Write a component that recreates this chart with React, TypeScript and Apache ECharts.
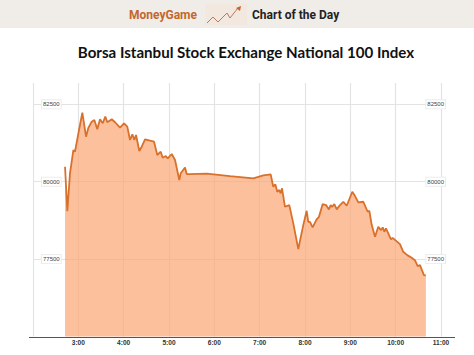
import React, { useEffect, useRef } from "react";
import * as echarts from "echarts";

const TITLE = "Borsa Istanbul Stock Exchange National 100 Index";
const BRAND = "MoneyGame";
const TAG = "Chart of the Day";

// minutes after midnight
const minutes = [
  162.4, 165.4, 169, 173.4, 175.6, 180.9, 185.3, 190.2, 193.2, 197.7, 201.2, 205.1, 208.7, 212.3, 215.7, 218.4,
  224.2, 228.6, 235.2, 240.5, 244.8, 248.4, 251.5, 254.1, 256.4, 260.7, 263.9, 268.3, 274.9, 280.2, 284.5, 289,
  291.7, 295.7, 298.3, 303.6, 308, 313.6, 315.5, 321.2, 323.4, 327.8, 349.9, 380.7, 411.6, 424.8, 434.6, 438,
  440.7, 443.3, 446, 447.8, 449.6, 453.5, 459.2, 464.5, 471.1, 477.7, 482.2, 484.3, 486.6, 490.1, 495.4, 498.5,
  503.4, 507.8, 511.7, 514, 516, 518.8, 522, 526.3, 530.7, 535.2, 542.6, 546.2, 550.6, 557.2, 563, 565.2,
  568.3, 572.7, 577, 580.6, 582.9, 585, 587.2, 593.8, 596, 605.7, 610, 615.3, 621.2, 625.5, 629.1, 632.2,
  637.4, 640,
];
const indexValues = [
  80485, 79052, 80281, 81025, 80970, 81672, 82232, 81456, 81737, 81941, 81996, 81695, 82019, 81889, 82103, 81922,
  82019, 81922, 81747, 81889, 81779, 81349, 81533, 81349, 81511, 80993, 81132, 81372, 81326, 81294, 80864, 80970,
  80776, 80831, 80757, 80896, 80702, 80055, 80272, 80459, 80249, 80249, 80259, 80184, 80110, 80207, 80239, 79838,
  79916, 79677, 79731, 79625, 79786, 79191, 79246, 78654, 77823, 78599, 79062, 78706, 78706, 78525, 78784, 78868,
  79279, 79246, 79107, 79246, 79182, 79279, 79107, 79246, 79353, 79224, 79676, 79537, 79334, 79353, 79030, 79062,
  78599, 78221, 78544, 78437, 78525, 78383, 78492, 78137, 78188, 77985, 77736, 77629, 77541, 77467, 77273, 77305,
  76982, 76972,
];

export default function App() {
  const ref = useRef<HTMLDivElement>(null);
  useEffect(() => {
    const chart = echarts.init(ref.current!, null, { renderer: "svg" });
    const gridColor = "#e3e3e3";
    const yLabel = {
      show: true,
      inside: true,
      showMinLabel: false,
      showMaxLabel: false,
      fontFamily: "Liberation Sans",
      fontSize: 6,
      color: "#444",
      backgroundColor: "#fff",
      borderColor: "#ececec",
      borderWidth: 1,
      padding: [1, 1, 1, 1],
      formatter: (v: number) => String(v),
    };
    chart.setOption({
      animation: false,
      backgroundColor: "#fff",
      grid: { left: 33, right: 33, top: 83, bottom: 18.5 },
      xAxis: {
        type: "value",
        min: 120,
        max: 660,
        interval: 60,
        axisLine: { show: false },
        axisTick: { show: false },
        axisLabel: {
          margin: 2,
          fontFamily: "Liberation Sans",
          fontSize: 6.6,
          fontWeight: "bold",
          color: "#333",
          formatter: (v: number) => (v === 120 ? "" : `${v / 60}:00`),
        },
        splitLine: { show: true, lineStyle: { color: gridColor, width: 1.2 } },
      },
      yAxis: [
        {
          type: "value",
          min: 75000,
          max: 83190,
          interval: 2500,
          position: "left",
          axisLine: { show: false },
          axisTick: { show: false },
          axisLabel: { ...yLabel, margin: 9 },
          splitLine: { show: true, showMinLine: false, showMaxLine: false, lineStyle: { color: gridColor, width: 1.2 } },
        },
        {
          type: "value",
          min: 75000,
          max: 83190,
          interval: 2500,
          position: "right",
          axisLine: { show: false },
          axisTick: { show: false },
          axisLabel: { ...yLabel, margin: -4 },
          splitLine: { show: false },
        },
      ],
      series: [
        {
          type: "line",
          data: minutes.map((m, i) => [m, indexValues[i]]),
          showSymbol: false,
          smooth: false,
          lineStyle: { color: "#d9702b", width: 1.8 },
          areaStyle: { color: "#fca876", opacity: 0.72, origin: "start" },
        },
      ],
      graphic: [
        { type: "rect", shape: { x: 0, y: 0, width: 474, height: 28 }, style: { fill: "#f0ede9" } },
        { type: "rect", shape: { x: 205, y: 4, width: 42, height: 21 }, style: { fill: "#f3e8df" } },
        {
          type: "polyline",
          shape: { points: [[207, 23], [213, 17], [218, 22], [227, 13], [230, 18], [238, 8]] },
          style: { stroke: "#b9795a", lineWidth: 1, fill: "none" },
        },
        {
          type: "polygon",
          shape: { points: [[236, 8], [241, 6], [240, 11]] },
          style: { fill: "#c8632a" },
        },
        {
          type: "text",
          x: 129,
          y: 15,
          style: { text: BRAND, fontFamily: "Roboto", fontWeight: "bold", fontSize: 12, fill: "#c4672c", verticalAlign: "middle" },
        },
        {
          type: "text",
          x: 252,
          y: 15,
          style: { text: TAG, fontFamily: "Roboto", fontWeight: "bold", fontSize: 12, fill: "#222", verticalAlign: "middle" },
        },
        {
          type: "text",
          x: 246,
          y: 52,
          style: { text: TITLE, fontFamily: "Lato", fontWeight: "bold", fontSize: 15.1, fill: "#111", align: "center", verticalAlign: "middle" },
        },
        {
          type: "line",
          shape: { x1: 29, y1: 337.5, x2: 455, y2: 337.5 },
          style: { stroke: "#555", lineWidth: 1 },
        },
      ],
    });
    return () => chart.dispose();
  }, []);
  return <div ref={ref} style={{ position: "fixed", left: 0, top: 0, width: 474, height: 355 }} />;
}
